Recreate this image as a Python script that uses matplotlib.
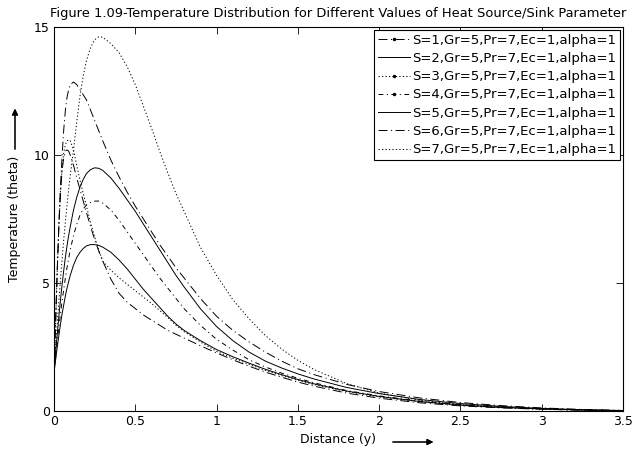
import matplotlib
matplotlib.use("Agg")
import matplotlib.pyplot as plt
from matplotlib.lines import Line2D

plt.rcParams['font.family'] = ['DejaVu Sans']
plt.rcParams['lines.scale_dashes'] = False

# ---- data ----
x = [0, 0.01, 0.02, 0.03, 0.04, 0.05, 0.06, 0.07, 0.08, 0.09, 0.1,
     0.12, 0.14, 0.16, 0.18, 0.2,
     0.225, 0.25, 0.275, 0.3,
     0.35, 0.4, 0.45, 0.5, 0.55, 0.6, 0.65, 0.7, 0.75, 0.8,
     0.9, 1.0, 1.1, 1.2, 1.3, 1.4, 1.5, 1.6,
     1.8, 2.0,
     2.25, 2.5, 2.75, 3.0, 3.25, 3.5]

s1 = [1.5, 3.5, 5.5, 7.2, 8.5, 9.4, 9.9, 10.15, 10.2, 10.15, 10.0,
      9.6, 9.1, 8.65, 8.2, 7.75,
      7.2, 6.7, 6.25, 5.85,
      5.15, 4.6, 4.25, 4.0, 3.75, 3.55, 3.35, 3.15, 3.0, 2.85,
      2.55, 2.27, 2.0, 1.75, 1.52, 1.32, 1.13, 0.97,
      0.7, 0.5,
      0.32, 0.2, 0.12, 0.07, 0.03, 0.01]
s2 = [1.5, 2.0, 2.5, 2.95, 3.4, 3.8, 4.15, 4.5, 4.8, 5.05, 5.3,
      5.7, 6.0, 6.2, 6.35, 6.45,
      6.5, 6.5, 6.47, 6.4,
      6.2, 5.9, 5.55, 5.15, 4.75, 4.4, 4.05, 3.7, 3.4, 3.15,
      2.75, 2.4, 2.12, 1.87, 1.63, 1.42, 1.23, 1.06,
      0.78, 0.57,
      0.37, 0.23, 0.14, 0.08, 0.04, 0.01]
s3 = [1.5, 3.5, 5.5, 7.3, 8.6, 9.5, 10.1, 10.4, 10.55, 10.6, 10.55,
      10.2, 9.6, 9.0, 8.5, 8.0,
      7.35, 6.8, 6.3, 5.85,
      5.5, 5.2, 4.95, 4.7, 4.45, 4.2, 3.93, 3.65, 3.35, 3.1,
      2.7, 2.33, 2.06, 1.82, 1.59, 1.38, 1.2, 1.03,
      0.76, 0.55,
      0.36, 0.22, 0.13, 0.07, 0.03, 0.01]
s4 = [1.5, 2.1, 2.7, 3.25, 3.8, 4.3, 4.75, 5.2, 5.6, 5.95, 6.3,
      6.85, 7.3, 7.65, 7.9, 8.05,
      8.15, 8.2, 8.2, 8.12,
      7.85, 7.45, 7.0, 6.55, 6.1, 5.65, 5.2, 4.8, 4.4, 4.0,
      3.35, 2.8, 2.38, 2.0, 1.72, 1.48, 1.28, 1.1,
      0.8, 0.59,
      0.39, 0.25, 0.15, 0.09, 0.04, 0.01]
s5 = [1.5, 2.3, 3.0, 3.7, 4.35, 4.95, 5.5, 6.0, 6.45, 6.85, 7.2,
      7.85, 8.35, 8.75, 9.05, 9.28,
      9.43, 9.5, 9.48, 9.4,
      9.1, 8.7, 8.25, 7.8, 7.3, 6.8, 6.3, 5.8, 5.3, 4.85,
      4.0, 3.3, 2.75, 2.3, 1.95, 1.68, 1.45, 1.25,
      0.92, 0.68,
      0.45, 0.29, 0.18, 0.1, 0.05, 0.02]
s6 = [1.5, 3.5, 5.5, 7.3, 8.8, 10.0, 11.0, 11.75, 12.25, 12.55, 12.75,
      12.85, 12.75, 12.55, 12.35, 12.15,
      11.75, 11.35, 10.95, 10.55,
      9.8, 9.15, 8.55, 8.0, 7.5, 7.0, 6.5, 6.05, 5.6, 5.2,
      4.4, 3.7, 3.15, 2.7, 2.3, 1.95, 1.65, 1.42,
      1.04, 0.76,
      0.51, 0.33, 0.21, 0.12, 0.06, 0.02]
s7 = [1.5, 2.5, 3.4, 4.3, 5.15, 5.95, 6.7, 7.4, 8.05, 8.65, 9.2,
      10.2, 11.3, 12.3, 13.1, 13.7,
      14.2, 14.5, 14.62, 14.6,
      14.35, 14.0, 13.45, 12.75, 11.9, 11.05, 10.15, 9.3, 8.5, 7.8,
      6.4, 5.3, 4.35, 3.6, 2.95, 2.42, 1.98, 1.62,
      1.07, 0.7,
      0.42, 0.25, 0.15, 0.08, 0.04, 0.01]

labels = ['S=%d,Gr=5,Pr=7,Ec=1,alpha=1' % k for k in range(1, 8)]
series = [s1, s2, s3, s4, s5, s6, s7]

title = 'Figure 1.09-Temperature Distribution for Different Values of Heat Source/Sink Parameter'
xticks = [0, 0.5, 1, 1.5, 2, 2.5, 3, 3.5]
xticklabels = ['0', '0.5', '1', '1.5', '2', '2.5', '3', '3.5']
yticks = [0, 5, 10, 15]

# ---- styles ----
long_dd = (0, (6.5, 2.5, 0.8, 2.5))
short_dd = (0, (3.5, 2.5, 0.8, 2.5))
dotted = (0, (0.9, 1.6))
styles = [long_dd, '-', dotted, short_dd, '-', long_dd, dotted]
legmark = ['.', None, '.', '.', None, None, None]

FS = 9.0

fig = plt.figure(figsize=(6.34, 4.51), dpi=100)
ax = fig.add_axes([54/634, 1-411/451, (623-54)/634, (411-27)/451])

for ys, ls in zip(series, styles):
    ax.plot(x, ys, color='black', linestyle=ls, linewidth=0.7)

ax.set_xlim(0, 3.5)
ax.set_ylim(0, 15)
ax.set_xticks(xticks)
ax.set_xticklabels(xticklabels)
ax.set_yticks(yticks)
ax.tick_params(direction='in', length=5, width=0.6, top=True, right=True,
               labelsize=FS, pad=3)
for sp in ax.spines.values():
    sp.set_linewidth(0.8)

ax.set_title(title, fontsize=9.4, pad=7)
ax.set_xlabel('Distance (y)', fontsize=FS)
ax.xaxis.set_label_coords(0.5, -(440-411)/384)
ax.xaxis.label.set_va('center')
ax.set_ylabel('Temperature (theta)', fontsize=FS)
ax.yaxis.set_label_coords(-(54-15)/569, 0.5)
ax.yaxis.label.set_va('center')

handles = []
for ls, mk, lab in zip(styles, legmark, labels):
    handles.append(Line2D([], [], color='black', linestyle=ls, linewidth=0.7,
                          marker=mk, markersize=3, label=lab))
leg = ax.legend(handles=handles, loc='upper right', fontsize=9.5,
                frameon=True, fancybox=False, framealpha=1,
                edgecolor='black', handlelength=2.4, handletextpad=0.2,
                borderpad=0.3, labelspacing=0.4, borderaxespad=0.2,
                numpoints=1)
leg.get_frame().set_linewidth(0.8)

# arrows next to axis labels
fig.add_artist(plt.annotate('', xy=(436/634, 1-442/451), xytext=(390/634, 1-442/451),
                            xycoords='figure fraction', textcoords='figure fraction',
                            arrowprops=dict(arrowstyle='-|>', color='black', lw=0.8,
                                            mutation_scale=9)))
fig.add_artist(plt.annotate('', xy=(15/634, 1-106/451), xytext=(15/634, 1-152/451),
                            xycoords='figure fraction', textcoords='figure fraction',
                            arrowprops=dict(arrowstyle='-|>', color='black', lw=0.8,
                                            mutation_scale=9)))

fig.savefig('out.png', dpi=100)
